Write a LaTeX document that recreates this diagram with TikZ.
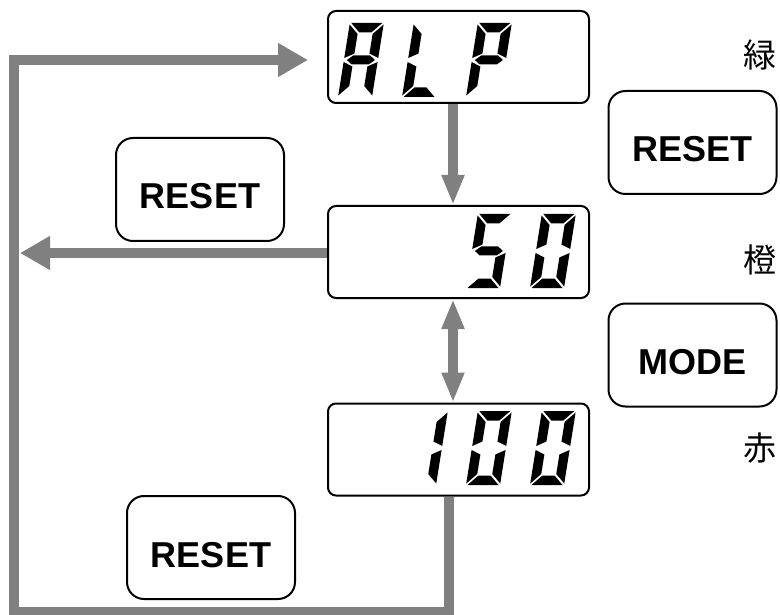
\documentclass[tikz,border=0pt]{standalone}
\usepackage{fontspec}
\setmainfont{Liberation Sans}
\newfontfamily\cjk{Noto Sans CJK JP}
\usetikzlibrary{arrows.meta}
\definecolor{lgray}{HTML}{808080}

\tikzset{
  disp/.style={draw=black, line width=2pt, rounded corners=8pt,
    minimum width=261pt, minimum height=92pt, inner sep=0pt},
  btn/.style={draw=black, line width=2pt, rounded corners=17pt,
    minimum width=168pt, minimum height=103pt, inner sep=0pt,
    text height=45pt, text depth=6pt,
    font=\fontsize{36}{40}\selectfont\bfseries},
  colorlbl/.style={inner sep=0pt, font=\cjk\fontsize{33}{36}\selectfont},
  glink/.style={draw=lgray, line width=10pt},
  vtip/.style={-{Triangle[length=30pt,width=21pt]}},
  vtips/.style={{Triangle[length=30pt,width=21pt]}-{Triangle[length=30pt,width=21pt]}},
  htip/.style={-{Triangle[length=30pt,width=32pt]}},
  segfill/.style={fill=black}
}

% seven-segment pieces, local coordinates (u,-v), v upward
\newcommand{\sega}{\fill[segfill] (1.5,-74) -- (32.5,-74) -- (23,-64.5) -- (11,-64.5) -- cycle;}
\newcommand{\segb}{\fill[segfill] (34,-72.5) -- (24.5,-63) -- (24.5,-43.5) -- (34,-39) -- cycle;}
\newcommand{\segc}{\fill[segfill] (34,-35) -- (24.5,-30.5) -- (24.5,-11) -- (34,-1.5) -- cycle;}
\newcommand{\segd}{\fill[segfill] (1.5,0) -- (32.5,0) -- (23,-9.5) -- (11,-9.5) -- cycle;}
\newcommand{\sege}{\fill[segfill] (0,-35) -- (9.5,-30.5) -- (9.5,-11) -- (0,-1.5) -- cycle;}
\newcommand{\segf}{\fill[segfill] (0,-72.5) -- (9.5,-63) -- (9.5,-43.5) -- (0,-39) -- cycle;}
\newcommand{\segg}{\fill[segfill] (3,-37) -- (8.5,-41.5) -- (25.5,-41.5) -- (31,-37) -- (25.5,-32.5) -- (8.5,-32.5) -- cycle;}
\newcommand{\lcddigit}[3]{%
  \begin{scope}[shift={(#1,#2)}, xslant=0.16]
    \foreach \sg in {#3}{\csname seg\sg\endcsname}
  \end{scope}}

\begin{document}
\begin{tikzpicture}[x=1pt, y=-1pt]
\useasboundingbox (0,0) rectangle (780,615);

% displays
\node[disp] (alp) at (458.5,57) {};
\node[disp] (s50) at (458.5,252) {};
\node[disp] (s100) at (458.5,449.5) {};

% ALP
\lcddigit{338}{97}{a,b,c,e,f,g}
\lcddigit{402}{97}{d,e,f}
\lcddigit{466}{97}{a,b,e,f,g}
% 50
\lcddigit{466}{288}{a,f,g,c,d}
\lcddigit{530}{288}{a,b,c,d,e,f}
% 100
\lcddigit{402}{485}{b,c}
\lcddigit{466}{485}{a,b,c,d,e,f}
\lcddigit{530}{485}{a,b,c,d,e,f}

% buttons
\node[btn] (rstl) at (200,189.5) {RESET};
\node[btn] (rstb) at (211,547.5) {RESET};
\node[btn] (rstr) at (692.5,142.5) {RESET};
\node[btn] (mode) at (692.5,355) {MODE};

% colour labels
\node[colorlbl] (green) at (760,55) {緑};
\node[colorlbl] (orange) at (760,260) {橙};
\node[colorlbl] (red) at (760,448) {赤};

% connector helper coordinates
\coordinate (vx) at (453,0);
\coordinate (lx) at (449,0);
\coordinate (leftend) at (20,253);
\coordinate (c1) at (449,612);
\coordinate (c2) at (13.5,612);
\coordinate (c3) at (13.5,60);
\coordinate (toptip) at (308,60);

% connectors
\draw[glink, vtip] (alp.south -| vx) -- (s50.north -| vx);
\draw[glink, vtips] (s50.south -| vx) -- (s100.north -| vx);
\draw[glink, htip] (s50.west |- leftend) -- (leftend);
\draw[glink, htip] (s100.south -| lx) -- (c1) -- (c2) -- (c3) -- (toptip);
\end{tikzpicture}
\end{document}
